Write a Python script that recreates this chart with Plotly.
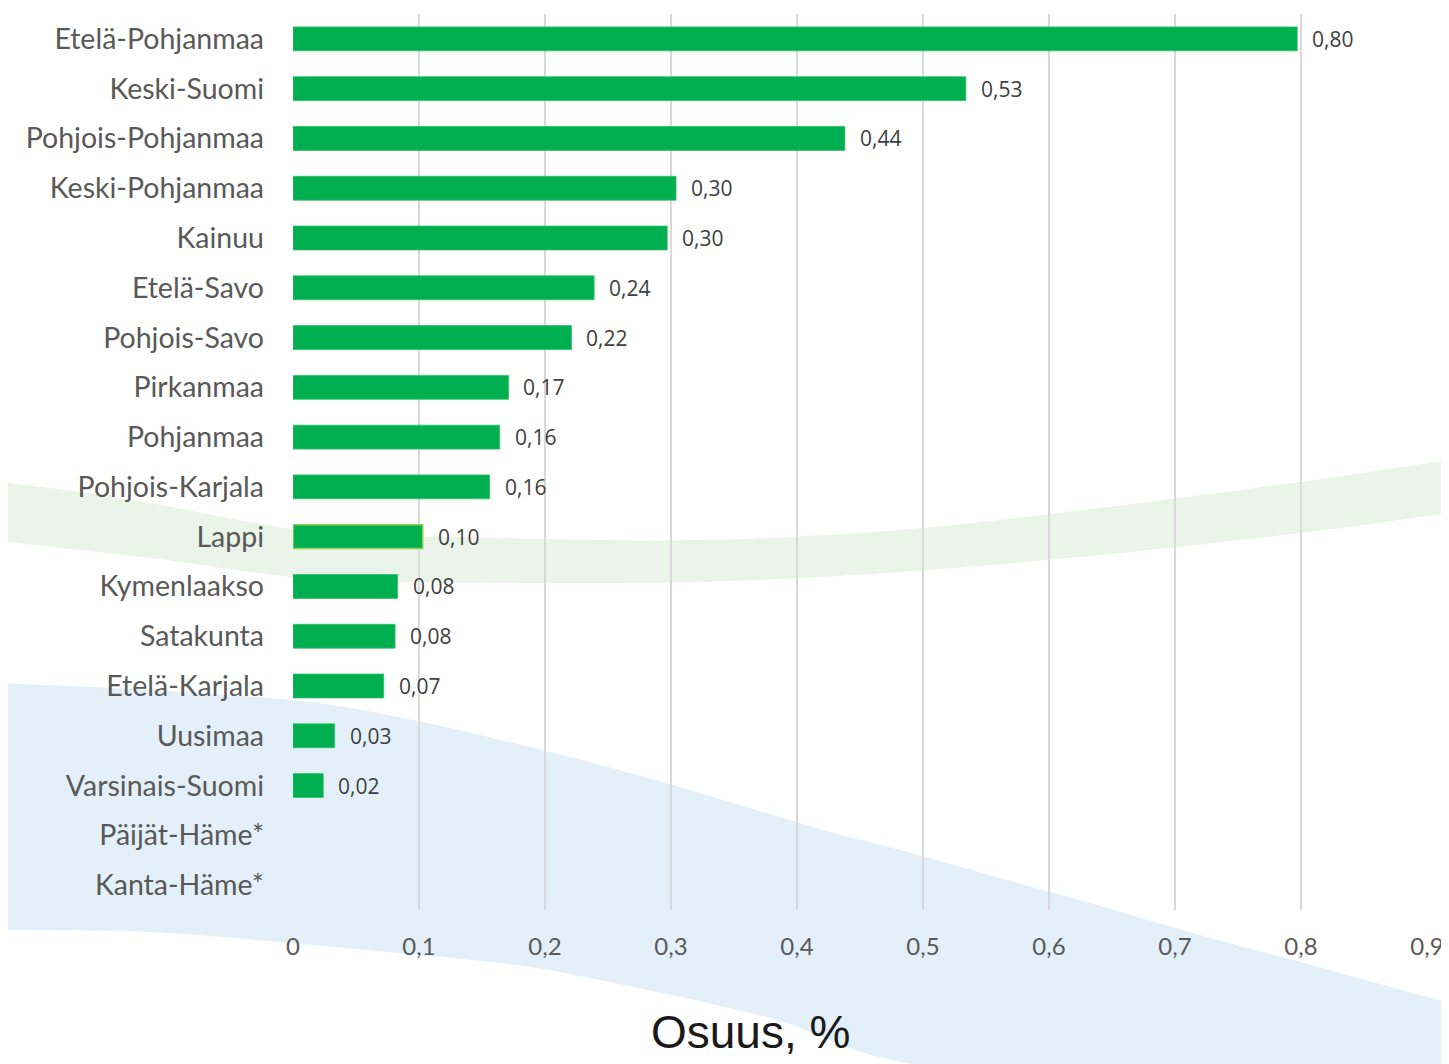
import plotly.graph_objects as go

regions = ["Etelä-Pohjanmaa", "Keski-Suomi", "Pohjois-Pohjanmaa", "Keski-Pohjanmaa",
           "Kainuu", "Etelä-Savo", "Pohjois-Savo", "Pirkanmaa", "Pohjanmaa",
           "Pohjois-Karjala", "Lappi", "Kymenlaakso", "Satakunta", "Etelä-Karjala",
           "Uusimaa", "Varsinais-Suomi", "Päijät-Häme*", "Kanta-Häme*"]
shares = [0.797, 0.534, 0.438, 0.304, 0.297, 0.239, 0.221, 0.171, 0.164,
          0.156, 0.103, 0.083, 0.081, 0.072, 0.033, 0.024, None, None]
x_ticks = [0, 0.1, 0.2, 0.3, 0.4, 0.5, 0.6, 0.7, 0.8, 0.9]
x_tick_text = ["0", "0,1", "0,2", "0,3", "0,4", "0,5", "0,6", "0,7", "0,8", "0,9"]
axis_title = "Osuus, %"

OFF = 8  # page body margin
W, H = 1449 - OFF, 1064 - OFF
L, R, T, B = 293 - OFF, 22, 14 - OFF, 154
PW, PH = W - L - R, H - T - B


def px(x, y):
    x -= OFF
    y -= OFF
    return (x - L) / PW, (H - B - y) / PH


def smooth(points, n=8):
    out = []
    P = [points[0]] + points + [points[-1]]
    for i in range(1, len(P) - 2):
        p0, p1, p2, p3 = P[i - 1], P[i], P[i + 1], P[i + 2]
        for k in range(n):
            t = k / n
            t2, t3 = t * t, t * t * t
            out.append(tuple(0.5 * ((2 * p1[j]) + (-p0[j] + p2[j]) * t
                                    + (2 * p0[j] - 5 * p1[j] + 4 * p2[j] - p3[j]) * t2
                                    + (-p0[j] + 3 * p1[j] - 3 * p2[j] + p3[j]) * t3)
                             for j in range(2)))
    out.append(points[-1])
    return out


def path(edges):
    pts = []
    for e in edges:
        pts += smooth(e) if len(e) > 2 else e
    pts = [px(x, y) for x, y in pts]
    return "M " + " L ".join(f"{a:.5f},{b:.5f}" for a, b in pts) + " Z"


blue_top = [(0, 683), (150, 690), (300, 701), (403, 718), (513, 743), (623, 771),
            (733, 803), (823, 830), (900, 850), (1000, 878), (1100, 906), (1200, 935),
            (1300, 962), (1423, 996), (1449, 1004)]
blue_bot = [(1449, 1070), (960, 1070), (767, 1017), (600, 980), (500, 963),
            (300, 944), (150, 932), (0, 930)]
green_top = [(0, 482), (80, 492), (167, 506), (250, 522), (333, 533), (500, 538),
             (700, 540), (900, 530), (1100, 508), (1300, 482), (1449, 460)]
green_bot = [(1449, 513), (1300, 533), (1100, 555), (900, 572), (700, 582),
             (500, 583), (333, 580), (250, 572), (167, 560), (80, 550), (0, 541)]

line_colors = ["#92D050" if r == "Lappi" else "#2EC266" for r in regions]
line_widths = [1.5 if r == "Lappi" else 0.8 for r in regions]

fig = go.Figure()
fig.add_trace(go.Bar(
    y=regions, x=shares, orientation="h",
    marker=dict(color="#00B050", line=dict(color=line_colors, width=line_widths)),
    hoverinfo="skip",
))

annotations = []
for r, v in zip(regions, shares):
    if v is None:
        continue
    annotations.append(dict(
        x=v, y=r, xref="x", yref="y", text=f"{v:.2f}".replace(".", ","),
        showarrow=False, xanchor="left", yanchor="middle", xshift=13,
        font=dict(family="Open Sans", size=21, color="#404040"),
    ))

ax, ay = px(750, 1032)
annotations.append(dict(
    x=ax, y=ay, xref="paper", yref="paper", text=axis_title, showarrow=False,
    xanchor="center", yanchor="middle",
    font=dict(family="Liberation Sans", size=46, color="#1a1a1a"),
))

fig.update_layout(
    width=W, height=H,
    margin=dict(l=L, r=R, t=T, b=B, autoexpand=False),
    paper_bgcolor="white", plot_bgcolor="rgba(0,0,0,0)",
    showlegend=False, bargap=0.52,
    shapes=[
        dict(type="path", xref="paper", yref="paper", path=path([blue_top, blue_bot]),
             fillcolor="#E3F0FA", line=dict(width=0), layer="below"),
        dict(type="path", xref="paper", yref="paper", path=path([green_top, green_bot]),
             fillcolor="#EAF4E8", line=dict(width=0), layer="below"),
    ],
    annotations=annotations,
    xaxis=dict(
        range=[0, 0.9], tickvals=x_ticks, ticktext=x_tick_text,
        showgrid=True, gridcolor="#D9D9D9", gridwidth=1.5, zeroline=False,
        showline=False, ticks="", ticklabelstandoff=20,
        tickfont=dict(family="Lato", size=24, color="#595959"),
    ),
    yaxis=dict(
        autorange="reversed", showgrid=False, zeroline=False, showline=False,
        ticks="", ticklabelstandoff=28,
        tickfont=dict(family="Lato", size=28.5, color="#595959"),
    ),
)

fig.write_html("out.html")
